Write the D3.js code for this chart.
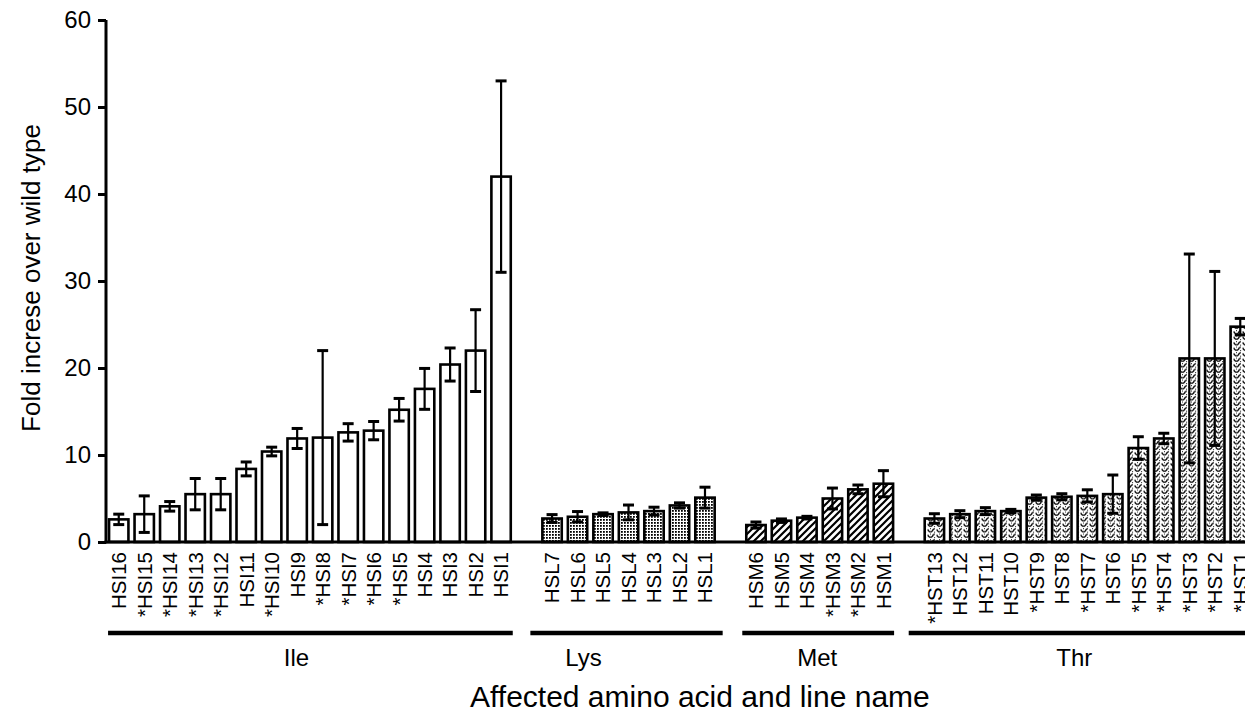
<!DOCTYPE html>
<html>
<head>
<meta charset="utf-8">
<script src="https://cdn.jsdelivr.net/npm/d3@7"></script>
<style>
  body { margin: 0; background: #fff; }
  svg { display: block; font-family: Arial, "Liberation Sans", Helvetica, sans-serif; }
</style>
</head>
<body>
<div id="chart"></div>
<script>
// values, left to right within each group
var groupNames = ["Ile", "Lys", "Met", "Thr"];

var ileLines = ["HSI16","*HSI15","*HSI14","*HSI13","*HSI12","HSI11","*HSI10","HSI9","*HSI8","*HSI7","*HSI6","*HSI5","HSI4","HSI3","HSI2","HSI1"];
var ileFold  = [2.6, 3.2, 4.1, 5.5, 5.5, 8.4, 10.4, 11.9, 12.0, 12.6, 12.8, 15.2, 17.6, 20.4, 22.0, 42.0];
var ileErr   = [0.6, 2.1, 0.55, 1.8, 1.8, 0.8, 0.5, 1.15, 10.0, 1.0, 1.05, 1.3, 2.35, 1.9, 4.7, 11.0];

var lysLines = ["HSL7","HSL6","HSL5","HSL4","HSL3","HSL2","HSL1"];
var lysFold  = [2.7, 2.9, 3.2, 3.4, 3.55, 4.2, 5.1];
var lysErr   = [0.45, 0.6, 0.15, 0.85, 0.45, 0.3, 1.2];

var metLines = ["HSM6","HSM5","HSM4","*HSM3","*HSM2","HSM1"];
var metFold  = [1.95, 2.45, 2.8, 5.0, 6.05, 6.7];
var metErr   = [0.35, 0.2, 0.15, 1.2, 0.5, 1.5];

var thrLines = ["*HST13","HST12","HST11","HST10","*HST9","HST8","*HST7","HST6","*HST5","*HST4","*HST3","*HST2","*HST1"];
var thrFold  = [2.7, 3.2, 3.55, 3.55, 5.1, 5.2, 5.3, 5.5, 10.8, 11.9, 21.1, 21.1, 24.75];
var thrErr   = [0.55, 0.4, 0.4, 0.2, 0.3, 0.35, 0.7, 2.2, 1.3, 0.6, 12.0, 10.0, 0.95];

var yTicks = [0, 10, 20, 30, 40, 50, 60];

var groups = [
  { name: groupNames[0], lines: ileLines, fold: ileFold, err: ileErr, fill: "#fff" },
  { name: groupNames[1], lines: lysLines, fold: lysFold, err: lysErr, fill: "url(#dots)" },
  { name: groupNames[2], lines: metLines, fold: metFold, err: metErr, fill: "url(#hatch)" },
  { name: groupNames[3], lines: thrLines, fold: thrFold, err: thrErr, fill: "url(#wave)" }
];

var rows = [];
var slots = [];
groups.forEach(function(g, gi) {
  if (gi > 0) slots.push("gap" + gi);
  g.lines.forEach(function(l, i) {
    rows.push({ line: l, fold: g.fold[i], err: g.err[i], fill: g.fill, group: gi });
    slots.push(l);
  });
});

var width = 1245, height = 715;

var svg = d3.select("#chart").append("svg")
  .attr("width", width)
  .attr("height", height);

var defs = svg.append("defs");

var dots = defs.append("pattern").attr("id", "dots")
  .attr("patternUnits", "userSpaceOnUse").attr("width", 3).attr("height", 3);
dots.append("rect").attr("width", 3).attr("height", 3).attr("fill", "#fff");
dots.append("rect").attr("width", 1.8).attr("height", 1.8).attr("fill", "#000");

var hatch = defs.append("pattern").attr("id", "hatch")
  .attr("patternUnits", "userSpaceOnUse").attr("width", 7).attr("height", 7);
hatch.append("rect").attr("width", 7).attr("height", 7).attr("fill", "#fff");
hatch.append("path").attr("d", "M0,7 L7,0 M-1,1 L1,-1 M6,8 L8,6")
  .attr("stroke", "#000").attr("stroke-width", 2.2);

var wave = defs.append("pattern").attr("id", "wave")
  .attr("patternUnits", "userSpaceOnUse").attr("width", 9).attr("height", 5.5);
wave.append("rect").attr("width", 9).attr("height", 5.5).attr("fill", "#fff");
wave.append("path").attr("d", "M0.8,1.3 C2,4.6 5,4.6 6.2,1.3 L7.8,0.6")
  .attr("fill", "none").attr("stroke", "#000").attr("stroke-width", 1.3);
wave.append("circle").attr("cx", 7.6).attr("cy", 4.2).attr("r", 0.6).attr("fill", "#000");
wave.append("circle").attr("cx", 3.5).attr("cy", 0.6).attr("r", 0.5).attr("fill", "#000");

var x = d3.scaleBand()
  .domain(slots)
  .range([106, 1253])
  .paddingInner(0.24)
  .paddingOuter(0.12);

var y = d3.scaleLinear()
  .domain([0, 60])
  .range([542, 20]);

// bars
svg.append("g").selectAll("rect")
  .data(rows)
  .enter()
  .append("rect")
  .attr("x", function(d) { return x(d.line); })
  .attr("y", function(d) { return y(d.fold); })
  .attr("width", x.bandwidth())
  .attr("height", function(d) { return y(0) - y(d.fold); })
  .attr("fill", function(d) { return d.fill; })
  .attr("stroke", "#000")
  .attr("stroke-width", 2.6);

// error bars
var eb = svg.append("g").attr("stroke", "#000");
var cx = function(d) { return x(d.line) + x.bandwidth() / 2; };
eb.selectAll("line.v")
  .data(rows)
  .enter()
  .append("line")
  .attr("class", "v")
  .attr("x1", cx).attr("x2", cx)
  .attr("y1", function(d) { return y(d.fold + d.err); })
  .attr("y2", function(d) { return y(d.fold - d.err); })
  .attr("stroke-width", 2.2);
[1, -1].forEach(function(s) {
  eb.selectAll("line.c" + (s > 0 ? "t" : "b"))
    .data(rows)
    .enter()
    .append("line")
    .attr("x1", function(d) { return cx(d) - 5.5; })
    .attr("x2", function(d) { return cx(d) + 5.5; })
    .attr("y1", function(d) { return y(d.fold + s * d.err); })
    .attr("y2", function(d) { return y(d.fold + s * d.err); })
    .attr("stroke-width", 3);
});

// axes
var yAxis = d3.axisLeft(y).tickValues(yTicks).tickSize(8).tickPadding(7);
var gy = svg.append("g")
  .attr("transform", "translate(106,0)")
  .call(yAxis);
gy.select(".domain").attr("stroke-width", 3).attr("d", "M0," + y(60) + "V" + (y(0) + 1.5));
gy.selectAll(".tick line").attr("stroke-width", 3);
gy.selectAll(".tick text").attr("font-size", 24).attr("fill", "#000").attr("font-family", "Arial, 'Liberation Sans', sans-serif");

svg.append("line")
  .attr("x1", 104.5).attr("x2", width)
  .attr("y1", y(0)).attr("y2", y(0))
  .attr("stroke", "#000").attr("stroke-width", 3);

// line names
svg.append("g").selectAll("text")
  .data(rows)
  .enter()
  .append("text")
  .attr("transform", function(d) { return "translate(" + cx(d) + ",552) rotate(-90)"; })
  .attr("dy", "0.36em")
  .attr("text-anchor", "end")
  .attr("font-size", 20.5)
  .text(function(d) { return d.line; });

// group underlines and names
var linePad = [[-1, 2], [-12, 8], [-4, 1], [-16, 20]];
var labelShift = [-14, -43, -1, -15];
groups.forEach(function(g, gi) {
  var x0 = x(g.lines[0]) + linePad[gi][0];
  var x1 = x(g.lines[g.lines.length - 1]) + x.bandwidth() + linePad[gi][1];
  svg.append("line")
    .attr("x1", x0).attr("x2", x1)
    .attr("y1", 633).attr("y2", 633)
    .attr("stroke", "#000").attr("stroke-width", 4.5);
  svg.append("text")
    .attr("x", (x0 + x1) / 2 + labelShift[gi])
    .attr("y", 666)
    .attr("text-anchor", "middle")
    .attr("font-size", 24)
    .text(g.name);
});

// axis titles
svg.append("text")
  .attr("transform", "translate(40,278) rotate(-90)")
  .attr("text-anchor", "middle")
  .attr("font-size", 26)
  .text("Fold increse over wild type");

svg.append("text")
  .attr("x", 470)
  .attr("y", 707)
  .attr("font-size", 30)
  .text("Affected amino acid and line name");
</script>
</body>
</html>
